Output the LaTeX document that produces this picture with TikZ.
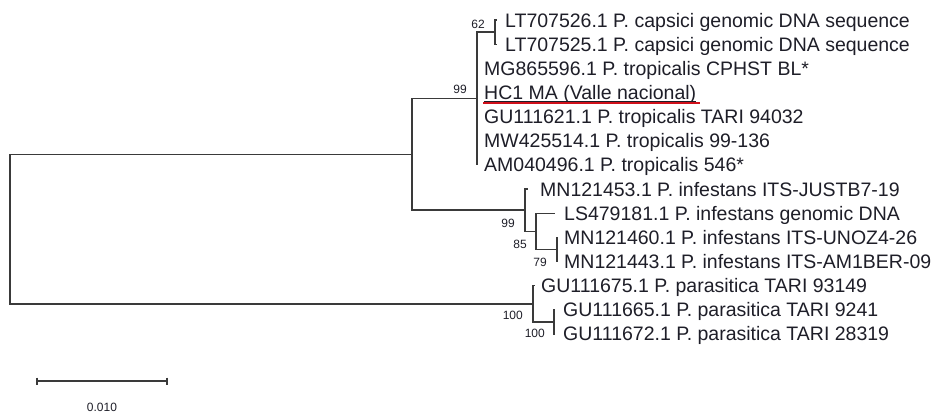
\documentclass[tikz,border=0pt]{standalone}
\usepackage{fontspec}
\setmainfont{Liberation Sans}
\usetikzlibrary{calc}
\definecolor{br}{HTML}{3A3A3A}
\definecolor{tx}{HTML}{1E1E28}
\definecolor{hl}{HTML}{D0101A}
\begin{document}
\begin{tikzpicture}[x=1pt,y=-1pt,
 branch/.style={draw=br,line width=1.3pt},
 leaf/.style={anchor=base west,inner sep=0pt,text=tx,font=\fontsize{19.5}{22}\selectfont},
 boot/.style={anchor=base east,inner sep=0pt,text=tx,font=\fontsize{12}{14}\selectfont},
 scalelbl/.style={anchor=base,inner sep=0pt,text=tx,font=\fontsize{12}{14}\selectfont},
]
\useasboundingbox (0,0) rectangle (936,413);
% internal nodes
\coordinate (root) at (10,229);
\coordinate (nA) at (412,154.2);
\coordinate (nT) at (477,98.5);
\coordinate (n62) at (495,32.1);
\coordinate (nI) at (525,210);
\coordinate (n85) at (536,231.4);
\coordinate (n79) at (557,249.4);
\coordinate (nP) at (533,303.9);
\coordinate (nQ) at (554,321.9);
% leaf tips
\coordinate (t1) at (497,20);
\coordinate (t2) at (497,44.15);
\coordinate (t3) at (477,68.3);
\coordinate (t4) at (477,92.45);
\coordinate (t5) at (477,116.6);
\coordinate (t6) at (477,140.75);
\coordinate (t7) at (477,164.9);
\coordinate (t8) at (528,189.05);
\coordinate (t9) at (555,213.2);
\coordinate (t10) at (558,237.35);
\coordinate (t11) at (558,261.5);
\coordinate (t12) at (535,285.65);
\coordinate (t13) at (555,309.8);
\coordinate (t14) at (555,333.95);
% branches
\draw[branch] (root) |- (nA);
\draw[branch] (root) |- (nP);
\draw[branch] (nA) |- (nT);
\draw[branch] (nA) |- (nI);
\draw[branch] (nT) |- (n62);
\draw[branch] (nT) -- (t7);
\draw[branch] (n62) |- (t1);
\draw[branch] (n62) |- (t2);
\draw[branch] (nI) |- (t8);
\draw[branch] (nI) |- (n85);
\draw[branch] (n85) |- (t9);
\draw[branch] (n85) |- (n79);
\draw[branch] (n79) |- (t10);
\draw[branch] (n79) |- (t11);
\draw[branch] (nP) |- (t12);
\draw[branch] (nP) |- (nQ);
\draw[branch] (nQ) |- (t13);
\draw[branch] (nQ) |- (t14);
% leaf labels
\node[leaf] (L1) at (505,27) {LT707526.1 P. capsici genomic DNA sequence};
\node[leaf] (L2) at (505,51.15) {LT707525.1 P. capsici genomic DNA sequence};
\node[leaf] (L3) at (484,75.3) {MG865596.1 P. tropicalis CPHST BL*};
\node[leaf] (L4) at (484,99.45) {HC1 MA (Valle nacional)};
\node[leaf] (L5) at (484,123.6) {GU111621.1 P. tropicalis TARI 94032};
\node[leaf] (L6) at (484,147.75) {MW425514.1 P. tropicalis 99-136};
\node[leaf] (L7) at (484,171.9) {AM040496.1 P. tropicalis 546*};
\node[leaf] (L8) at (540,196.05) {MN121453.1 P. infestans ITS-JUSTB7-19};
\node[leaf] (L9) at (564,220.2) {LS479181.1 P. infestans genomic DNA};
\node[leaf] (L10) at (564,244.35) {MN121460.1 P. infestans ITS-UNOZ4-26};
\node[leaf] (L11) at (564,268.5) {MN121443.1 P. infestans ITS-AM1BER-09};
\node[leaf] (L12) at (541,292.65) {GU111675.1 P. parasitica TARI 93149};
\node[leaf] (L13) at (563,316.8) {GU111665.1 P. parasitica TARI 9241};
\node[leaf] (L14) at (563,340.95) {GU111672.1 P. parasitica TARI 28319};
% highlight of HC1
\draw[tx,line width=0.8pt] ($(L4.base west)+(0,1.6)$) -- ($(L4.base east)+(0,1.6)$);
\draw[hl,line width=2.6pt] ($(L4.base west)+(-1,3.6)$) -- ($(L4.base east)+(4,3.6)$);
% bootstrap values
\node[boot] (b62) at ($(n62)+(-10,-4)$) {62};
\node[boot] (b99a) at ($(nT)+(-10,-5.5)$) {99};
\node[boot] (b99b) at ($(nI)+(-10,17)$) {99};
\node[boot] (b85) at ($(n85)+(-9,16.6)$) {85};
\node[boot] (b79) at ($(n79)+(-10,16.6)$) {79};
\node[boot] (b100a) at ($(nP)+(-10,16)$) {100};
\node[boot] (b100b) at ($(nQ)+(-9,16)$) {100};
% scale bar
\coordinate (s1) at (37,381);
\coordinate (s2) at (167,381);
\draw[branch] (s1) -- (s2);
\draw[branch] ($(s1)+(0,-3.5)$) -- ($(s1)+(0,3.5)$);
\draw[branch] ($(s2)+(0,-3.5)$) -- ($(s2)+(0,3.5)$);
\node[scalelbl] (sl) at (102,411) {0.010};
\end{tikzpicture}
\end{document}
